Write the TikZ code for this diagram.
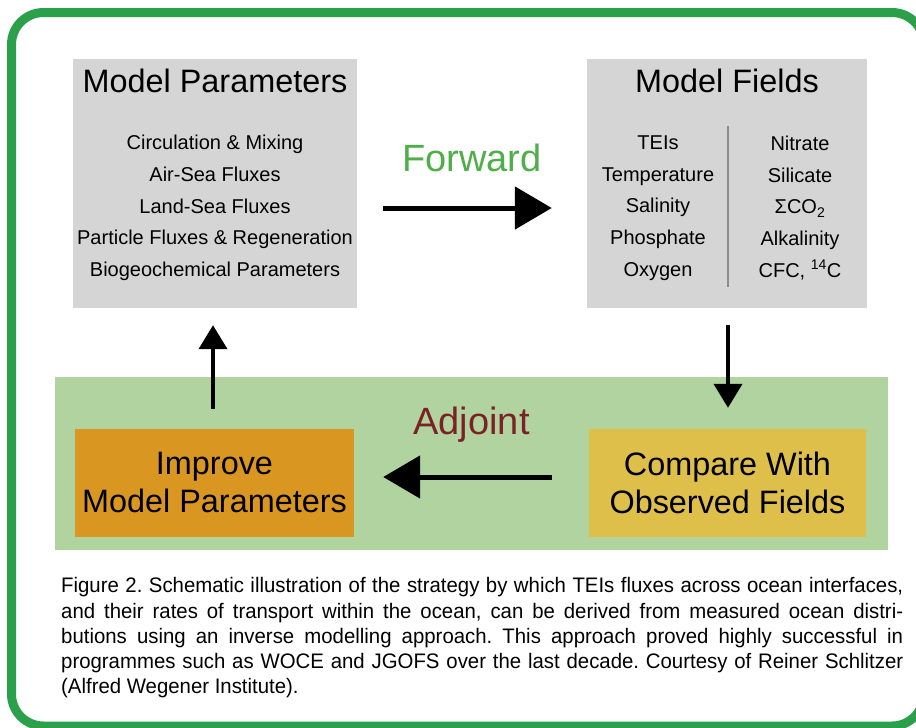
\documentclass[tikz,border=0pt]{standalone}
\usepackage{fontspec}
\setmainfont{Liberation Sans}
\newfontfamily\capfont[FakeStretch=0.97]{Liberation Sans}
\usetikzlibrary{arrows.meta}
\definecolor{frame}{HTML}{2BA04B}
\definecolor{boxgray}{HTML}{D5D5D5}
\definecolor{band}{HTML}{B1D3A0}
\definecolor{improve}{HTML}{D99722}
\definecolor{compare}{HTML}{DDBF4A}
\definecolor{fwdgreen}{HTML}{4FAE47}
\definecolor{adjred}{HTML}{7B2226}
\definecolor{rule}{HTML}{8C8C8C}

\begin{document}
\begin{tikzpicture}[x=1pt,y=-1pt,
    every node/.style={inner sep=0pt},
    title/.style={font=\fontsize{32.4}{38}\selectfont},
    list/.style={font=\fontsize{20}{31.7}\selectfont,align=center},
    gbox/.style={fill=boxgray,minimum height=249pt},
    sbox/.style={minimum height=108pt,align=center,font=\fontsize{32.4}{38}\selectfont},
    bigarrow/.style={-{Triangle[length=37pt,width=42pt]},line width=5pt},
    smallarrow/.style={-{Triangle[length=24pt,width=28pt]},line width=4pt}]
    \useasboundingbox (0,0) rectangle (916,728);
    \draw[frame,line width=9pt,rounded corners=32pt] (11.5,12.5) rectangle (924,726);

    % upper row
    \node[gbox,minimum width=284pt] (par) at (215,183.5) {};
    \node[gbox,minimum width=280pt] (fld) at (727,183.5) {};
    \node[title,anchor=base] at ([yshift=-34pt]par.north) {Model Parameters};
    \node[title,anchor=base] at ([yshift=-34pt]fld.north) {Model Fields};
    \node[list] (parlist) at ([yshift=-24.5pt]par.center) {Circulation \& Mixing\\Air-Sea Fluxes\\Land-Sea Fluxes\\Particle Fluxes \& Regeneration\\Biogeochemical Parameters};
    \node[list] (fldleft) at ([xshift=-69pt,yshift=-24.5pt]fld.center) {TEIs\\Temperature\\Salinity\\Phosphate\\Oxygen};
    \node[list] (fldright) at ([xshift=73pt,yshift=-24.5pt]fld.center) {Nitrate\\Silicate\\ΣCO\textsubscript{2}\\Alkalinity\\CFC, \textsuperscript{14}C};
    \draw[rule,line width=2pt] ([xshift=1pt,yshift=-67pt]fld.north) -- ([xshift=1pt,yshift=21pt]fld.south);

    % lower row
    \node[fill=band,minimum width=833pt,minimum height=173pt] (loop) at (471.5,463.5) {};
    \node[sbox,fill=improve,minimum width=279pt] (imp) at (214.5,483) {Improve\\Model Parameters};
    \node[sbox,fill=compare,minimum width=277pt] (cmp) at (727.5,483) {Compare With\\Observed Fields};

    \draw[bigarrow,shorten <=26pt,shorten >=35pt] ([yshift=-24.5pt]par.east) -- ([yshift=-24.5pt]fld.west)
      node[midway,yshift=50pt,text=fwdgreen,font=\fontsize{38}{44}\selectfont] {Forward};
    \draw[bigarrow,shorten <=37pt,shorten >=29pt] ([yshift=6pt]cmp.west) -- ([yshift=6pt]imp.east)
      node[midway,yshift=52pt,text=adjred,font=\fontsize{38}{44}\selectfont] {Adjoint};
    \draw[smallarrow,shorten <=17pt,shorten >=21pt] ([xshift=1pt]fld.south) -- ([xshift=0.5pt]cmp.north);
    \draw[smallarrow,shorten <=20pt,shorten >=17pt] ([xshift=-1.5pt]imp.north) -- ([xshift=-2pt]par.south);

    \node[anchor=north west,text width=842pt,align=justify,font=\capfont\fontsize{21}{25.2}\selectfont\frenchspacing] (cap) at (61,577.5)
      {Figure 2. Schematic illustration of the strategy by which TEIs fluxes across ocean interfaces,\linebreak
       and their rates of transport within the ocean, can be derived from measured ocean distri-\linebreak
       butions using an inverse modelling approach. This approach proved highly successful in\linebreak
       programmes such as WOCE and JGOFS over the last decade. Courtesy of Reiner Schlitzer\linebreak
       (Alfred Wegener Institute).};
\end{tikzpicture}
\end{document}
